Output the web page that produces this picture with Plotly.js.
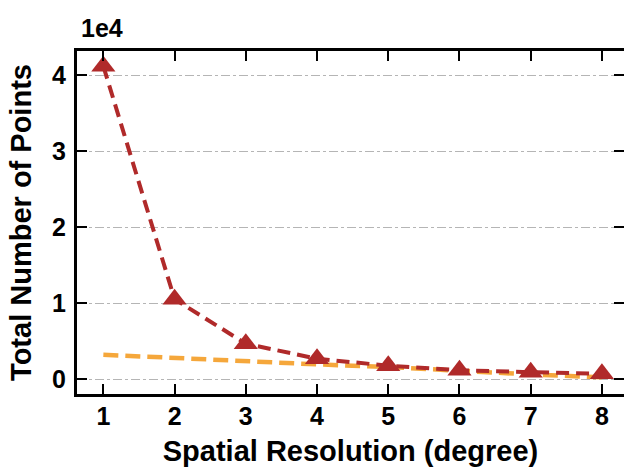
<!DOCTYPE html>
<html>
<head>
<meta charset="utf-8">
<script src="https://cdn.plot.ly/plotly-3.0.1.min.js"></script>
<style>html,body{margin:0;padding:0;background:#fff;}#chart{width:624px;height:473px;}</style>
</head>
<body>
<div id="chart"></div>
<script>
const resolution = [1, 2, 3, 4, 5, 6, 7, 8];
const totalPoints = [41160, 10500, 4650, 2670, 1750, 1160, 900, 700];
const fittedPoints = [3200, 2750, 2380, 1930, 1580, 1050, 600, 220];
const yTickVals = [0, 10000, 20000, 30000, 40000];
const yTickText = ['0', '1', '2', '3', '4'];
const xTickVals = [1, 2, 3, 4, 5, 6, 7, 8];
const xTickText = ['1', '2', '3', '4', '5', '6', '7', '8'];

const FONT = 'Liberation Sans, Arial, sans-serif';
const bold = s => '<b>' + s + '</b>';

const traces = [
  {
    x: resolution, y: fittedPoints, type: 'scatter', mode: 'lines',
    line: {color: '#F5A73B', width: 4.5, dash: '15px,7px'},
    hoverinfo: 'skip'
  },
  {
    x: resolution, y: totalPoints, type: 'scatter', mode: 'lines+markers',
    line: {color: '#B02A2A', width: 4, dash: '13px,7px'},
    marker: {symbol: 'triangle-up', size: 21, color: '#B02A2A', line: {width: 0}}
  }
];

const layout = {
  width: 624, height: 473,
  margin: {l: 77, r: 0, t: 51, b: 79},
  paper_bgcolor: '#fff', plot_bgcolor: '#fff',
  showlegend: false,
  font: {family: FONT, color: '#000'},
  xaxis: {
    range: [0.63, 8.31],
    tickvals: xTickVals, ticktext: xTickText.map(bold),
    ticks: 'inside', ticklen: 10, tickwidth: 2, tickcolor: '#000',
    showline: true, linewidth: 3, linecolor: '#000', mirror: 'ticks',
    showgrid: false, zeroline: false,
    tickfont: {family: FONT, size: 25, weight: 'bold', color: '#000'},
    ticklabelstandoff: -2,
    title: {text: bold('Spatial Resolution (degree)'), font: {family: FONT, size: 29, color: '#000'}, standoff: 12}
  },
  yaxis: {
    range: [-1970, 43160],
    tickvals: yTickVals, ticktext: yTickText.map(bold),
    ticks: 'inside', ticklen: 10, tickwidth: 2, tickcolor: '#000',
    showline: true, linewidth: 3, linecolor: '#000', mirror: 'ticks',
    showgrid: true, gridcolor: '#b5b5b5', gridwidth: 1, griddash: 'dashdot',
    zeroline: false,
    tickfont: {family: FONT, size: 25, weight: 'bold', color: '#000'},
    ticklabelstandoff: 3,
    title: {text: bold('Total Number of Points'), font: {family: FONT, size: 29, color: '#000'}, standoff: 12}
  },
  annotations: [
    {text: bold('1e4'), xref: 'paper', yref: 'paper', x: 0.003, y: 1.066,
     xanchor: 'left', yanchor: 'middle', showarrow: false,
     font: {family: FONT, size: 25, color: '#000'}}
  ]
};

Plotly.newPlot('chart', traces, layout, {displayModeBar: false, staticPlot: true});
</script>
</body>
</html>
